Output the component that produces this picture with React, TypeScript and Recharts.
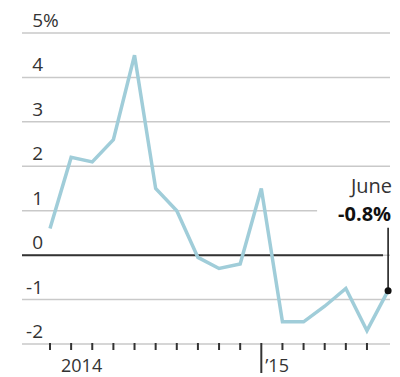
import { CartesianGrid, Line, LineChart, ReferenceDot, ReferenceLine, XAxis, YAxis } from "recharts";

// Monthly change, Feb 2014 – June 2015
const months = [
  "2014-02", "2014-03", "2014-04", "2014-05", "2014-06", "2014-07", "2014-08", "2014-09",
  "2014-10", "2014-11", "2014-12", "2015-01", "2015-02", "2015-03", "2015-04", "2015-05", "2015-06",
];
const changePct = [0.6, 2.2, 2.1, 2.6, 4.5, 1.5, 1.0, -0.05, -0.3, -0.2, 1.5, -1.5, -1.5, -1.15, -0.75, -1.7, -0.8];

const yTicks = [-2, -1, 0, 1, 2, 3, 4, 5];
const xTicks = [0, 1, 2, 3, 4, 5, 6, 7, 8, 9, 10, 11, 12, 13, 14, 15];
const yearLabels: Record<number, string> = { 1: "2014", 10: "\u201915" };
const yearBreak = 10;

const data = months.map((m, i) => ({ i, month: m, value: changePct[i] }));
const last = data[data.length - 1];

const INK = "#333333";
const FONT = "'Open Sans', sans-serif";

function YTick(props: any) {
  const { x, y, payload } = props;
  const v = payload.value as number;
  return (
    <g>
      <text x={x + 21} y={y - 6} textAnchor="end" fontSize={19} fill={INK} fontFamily={FONT}>
        {v < 0 ? `-${Math.abs(v)}` : v}
      </text>
      {v === 5 && (
        <text x={x + 21} y={y - 6} textAnchor="start" fontSize={19} fill={INK} fontFamily={FONT}>
          %
        </text>
      )}
    </g>
  );
}

function XTick(props: any) {
  const { x, y, payload } = props;
  const v = payload.value as number;
  const isBreak = v === yearBreak;
  const label = yearLabels[v];
  return (
    <g>
      <line x1={x} x2={x} y1={y - 1} y2={isBreak ? y + 29 : y + 6} stroke={INK} strokeWidth={2} />
      {label && (
        <text
          x={isBreak ? x + 4 : x + 10.5}
          y={y + 28}
          textAnchor={isBreak ? "start" : "middle"}
          fontSize={18}
          fill={INK}
          fontFamily={FONT}
        >
          {label}
        </text>
      )}
    </g>
  );
}

function LatestMarker(props: any) {
  const { cx, cy } = props;
  return (
    <g>
      <rect x={cx - 71} y={cy - 118} width={77} height={52} fill="#ffffff" />
      <text x={cx + 4} y={cy - 98} textAnchor="end" fontSize={20} fill={INK} fontFamily={FONT}>
        June
      </text>
      <text x={cx + 3} y={cy - 70} textAnchor="end" fontSize={20} fontWeight={700} fill="#111" fontFamily={FONT}>
        {`-${Math.abs(last.value)}%`}
      </text>
      <line x1={cx} x2={cx} y1={cy - 63} y2={cy} stroke="#111" strokeWidth={1.5} />
      <circle cx={cx} cy={cy} r={3.5} fill="#111" />
    </g>
  );
}

export default function App() {
  return (
    <div style={{ position: "absolute", left: 0, top: 0, width: 400, height: 377, background: "#fff" }}>
      <LineChart width={400} height={377} data={data} margin={{ top: 33, right: 10, left: 0, bottom: 0 }}>
        <CartesianGrid vertical={false} stroke="#c9c9c9" strokeWidth={1.5} />
        <XAxis
          type="number"
          dataKey="i"
          domain={[-1.325, 16.09]}
          ticks={xTicks}
          interval={0}
          allowDataOverflow
          height={33}
          tickSize={0}
          tickMargin={0}
          axisLine={false}
          tick={<XTick />}
        />
        <YAxis
          domain={[-2, 5]}
          ticks={yTicks}
          interval={0}
          width={22}
          tickSize={0}
          tickMargin={0}
          axisLine={false}
          tick={<YTick />}
        />
        <ReferenceLine
          segment={[
            { x: -1.325, y: 0 },
            { x: 15.76, y: 0 },
          ]}
          stroke={INK}
          strokeWidth={2}
        />
        <Line
          type="linear"
          dataKey="value"
          stroke="#a0cdd9"
          strokeWidth={3.5}
          dot={false}
          isAnimationActive={false}
        />
        <ReferenceDot x={last.i} y={last.value} shape={<LatestMarker />} />
      </LineChart>
    </div>
  );
}
